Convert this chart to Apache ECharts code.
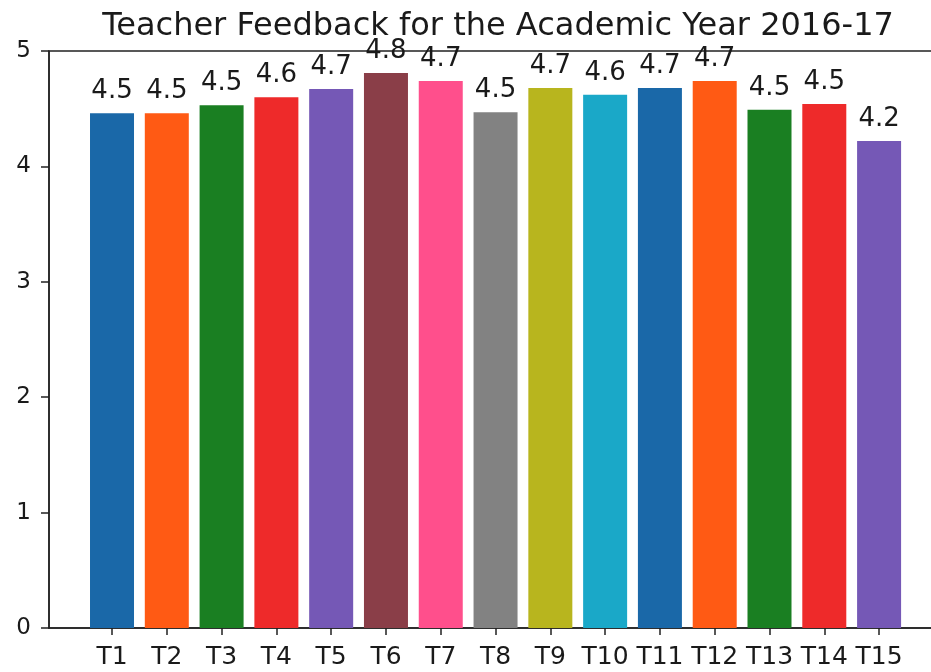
<!DOCTYPE html>
<html><head><meta charset="utf-8">
<script src="https://cdn.jsdelivr.net/npm/echarts@6/dist/echarts.min.js"></script>
<style>html,body{margin:0;padding:0;background:#fff;}#c{width:931px;height:672px;}</style>
</head><body><div id="c"></div>
<script>
const categories = ['T1','T2','T3','T4','T5','T6','T7','T8','T9','T10','T11','T12','T13','T14','T15'];
const scores = [4.46, 4.46, 4.53, 4.60, 4.67, 4.81, 4.74, 4.47, 4.68, 4.62, 4.68, 4.74, 4.49, 4.54, 4.22];
const barColors = ['#1a68a8','#ff5a14','#1a7f22','#ee2a2a','#7558b6','#8a3e48','#ff4f8c','#828282','#b8b51e','#1aa8c8','#1a68a8','#ff5a14','#1a7f22','#ee2a2a','#7558b6'];
const yTicks = [0,1,2,3,4,5];
const titleText = 'Teacher Feedback for the Academic Year 2016-17';

const chart = echarts.init(document.getElementById('c'), null, {renderer:'canvas'});
const font = 'DejaVu Sans';
chart.setOption({
  animation:false,
  color: barColors,
  title:{text:titleText,left:493,top:6,textAlign:'center',
    textStyle:{fontFamily:font,fontSize:32,fontWeight:'normal',color:'#1a1a1a'}},
  grid:{left:49,top:51,width:892,height:577,show:true,borderColor:'#222',borderWidth:1.5,
    backgroundColor:'transparent',outerBoundsMode:'none',containLabel:false},
  xAxis:{type:'value',min:-1.15,max:15.13,
    axisLine:{show:true,onZero:false,lineStyle:{color:'#222',width:1.5}},
    axisTick:{show:true,inside:false,length:7,customValues:categories.map((c,i)=>i),lineStyle:{color:'#222',width:1.5}},
    axisLabel:{customValues:categories.map((c,i)=>i),formatter:v=>categories[Math.round(v)],
      fontFamily:font,fontSize:25,color:'#1a1a1a',margin:17},
    splitLine:{show:false}},
  yAxis:{type:'value',min:0,max:5,interval:1,
    axisLine:{show:true,onZero:false,lineStyle:{color:'#222',width:1.5}},
    axisTick:{show:true,inside:false,length:8,lineStyle:{color:'#222',width:1.5}},
    axisLabel:{fontFamily:font,fontSize:23,color:'#1a1a1a',margin:18,customValues:yTicks},
    splitLine:{show:false}},
  series:[{type:'bar',colorBy:'data',barWidth:44,
    data:scores.map((v,i)=>[i,v]),
    label:{show:true,position:'top',distance:9,fontFamily:font,fontSize:26,color:'#1a1a1a',
      formatter:p=>p.value[1].toFixed(1)}}]
});
</script></body></html>
